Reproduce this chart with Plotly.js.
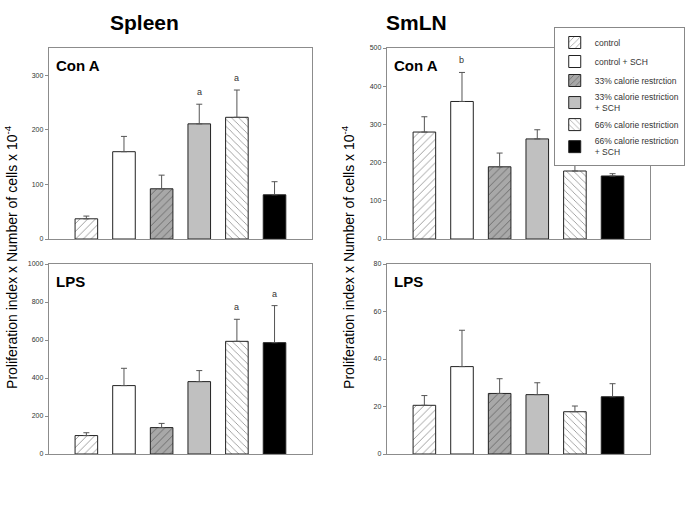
<!DOCTYPE html>
<html>
<head>
<meta charset="utf-8">
<script src="https://cdn.plot.ly/plotly-3.0.1.min.js"></script>
<style>html,body{margin:0;padding:0;background:#fff;}#chart{width:685px;height:516px;}</style>
</head>
<body>
<div id="chart"></div>
<script>
// ---- data ----
const groups = ["control", "control + SCH", "33% calorie restrction", "33% calorie restriction<br>+ SCH", "66% calorie restriction", "66% calorie restriction<br>+ SCH"];
const categoryPos = [1, 2, 3, 4, 5, 6];

const spleenConA = [37, 160, 92, 211, 223, 81];
const spleenConAErr = [5, 28, 25, 36, 50, 24];
const spleenConALetters = ["", "", "", "a", "a", ""];
const spleenConATicks = [0, 100, 200, 300];
const spleenConAMax = 350;

const spleenLPS = [97, 360, 139, 381, 593, 586];
const spleenLPSErr = [15, 91, 22, 58, 116, 195];
const spleenLPSLetters = ["", "", "", "", "a", "a"];
const spleenLPSTicks = [0, 200, 400, 600, 800, 1000];
const spleenLPSMax = 1000;

const smlnConA = [280, 360, 189, 262, 178, 165];
const smlnConAErr = [40, 76, 36, 24, 16, 6];
const smlnConALetters = ["", "b", "", "", "", ""];
const smlnConATicks = [0, 100, 200, 300, 400, 500];
const smlnConAMax = 500;

const smlnLPS = [20.5, 36.8, 25.5, 25.0, 17.8, 24.1];
const smlnLPSErr = [4.1, 15.3, 6.2, 5.0, 2.4, 5.5];
const smlnLPSLetters = ["", "", "", "", "", ""];
const smlnLPSTicks = [0, 20, 40, 60, 80];
const smlnLPSMax = 80;

const panelTitles = ["Spleen", "SmLN"];
const stimLabels = ["Con A", "LPS", "Con A", "LPS"];
const yTitle = "Proliferation index x Number of cells x 10<sup>-4</sup>";

// ---- styles ----
const styles = [
  {color: "#ffffff", pattern: {shape: "/", bgcolor: "#ffffff", fgcolor: "#1a1a1a", size: 5.5, solidity: 0.15, fillmode: "overlay"}},
  {color: "#ffffff", pattern: {shape: ""}},
  {color: "#a8a8a8", pattern: {shape: "/", bgcolor: "#a8a8a8", fgcolor: "#1a1a1a", size: 5.5, solidity: 0.15, fillmode: "overlay"}},
  {color: "#c0c0c0", pattern: {shape: ""}},
  {color: "#ffffff", pattern: {shape: "\\", bgcolor: "#ffffff", fgcolor: "#1a1a1a", size: 5, solidity: 0.16, fillmode: "overlay"}},
  {color: "#000000", pattern: {shape: ""}}
];

const panels = [
  {vals: spleenConA, err: spleenConAErr, letters: spleenConALetters, ticks: spleenConATicks, max: spleenConAMax},
  {vals: spleenLPS, err: spleenLPSErr, letters: spleenLPSLetters, ticks: spleenLPSTicks, max: spleenLPSMax},
  {vals: smlnConA, err: smlnConAErr, letters: smlnConALetters, ticks: smlnConATicks, max: smlnConAMax},
  {vals: smlnLPS, err: smlnLPSErr, letters: smlnLPSLetters, ticks: smlnLPSTicks, max: smlnLPSMax}
];

const W = 685, H = 516;
const xDom = [[49 / W, 314 / W], [49 / W, 314 / W], [389 / W, 654 / W], [389 / W, 654 / W]];
const yDom = [[(H - 239) / H, (H - 48) / H], [(H - 454) / H, (H - 264) / H], [(H - 239) / H, (H - 48) / H], [(H - 454) / H, (H - 264) / H]];

const font = "Liberation Sans, Arial, sans-serif";
const traces = [];
const annotations = [];
const layout = {
  width: W, height: H,
  margin: {l: 0, r: 0, t: 0, b: 0},
  paper_bgcolor: "#fff", plot_bgcolor: "#fff",
  barmode: "overlay",
  showlegend: true,
  font: {family: font, color: "#333"},
  legend: {
    x: 557 / W, y: (H - 27) / H, xanchor: "left", yanchor: "top",
    bgcolor: "#ffffff", bordercolor: "#888888", borderwidth: 1,
    font: {size: 8.5, family: font, color: "#333"},
    tracegroupgap: 0, traceorder: "normal", itemwidth: 30
  },
  annotations: annotations
};

panels.forEach((p, k) => {
  const sfx = k === 0 ? "" : String(k + 1);
  const xa = "x" + sfx, ya = "y" + sfx;
  groups.forEach((g, i) => {
    traces.push({
      type: "bar",
      x: [categoryPos[i]], y: [p.vals[i]],
      width: 0.6,
      name: g,
      legendgroup: "g" + i,
      showlegend: k === 0,
      xaxis: xa, yaxis: ya,
      marker: {color: styles[i].color, pattern: styles[i].pattern, line: {color: "#222", width: 1}},
      error_y: {type: "data", symmetric: false, array: [p.err[i]], arrayminus: [0], color: "#555", thickness: 1, width: 3},
      hoverinfo: "skip"
    });
    if (p.letters[i]) {
      annotations.push({
        xref: xa, yref: ya, x: categoryPos[i], y: p.vals[i] + p.err[i],
        text: p.letters[i], showarrow: false, yanchor: "bottom", xanchor: "center", yshift: 5,
        font: {size: 9, family: font, color: "#333"}
      });
    }
  });
  layout["xaxis" + sfx] = {
    domain: xDom[k], anchor: ya, range: [0, 7],
    showticklabels: false, ticks: "", showgrid: false, zeroline: false,
    showline: true, mirror: true, linecolor: "#8c8c8c", linewidth: 1, fixedrange: true
  };
  layout["yaxis" + sfx] = {
    domain: yDom[k], anchor: xa, range: [0, p.max],
    tickvals: p.ticks, ticks: "outside", ticklen: 3, tickcolor: "#8c8c8c",
    tickfont: {size: 7, family: font, color: "#333333"},
    showgrid: false, zeroline: false,
    showline: true, mirror: true, linecolor: "#8c8c8c", linewidth: 1, fixedrange: true
  };
  annotations.push({
    xref: xa + " domain", yref: ya + " domain", x: 0.019, y: 0.965,
    xanchor: "left", yanchor: "top", showarrow: false,
    text: "<b>" + stimLabels[k] + "</b>",
    font: {size: 15, family: font, color: "#000"}
  });
});

// panel titles
annotations.push({xref: "paper", yref: "paper", x: 145 / W, y: (H - 23) / H, xanchor: "center", yanchor: "middle", text: "<b>" + panelTitles[0] + "</b>", showarrow: false, font: {size: 21, family: font, color: "#000"}});
annotations.push({xref: "paper", yref: "paper", x: 419 / W, y: (H - 23) / H, xanchor: "center", yanchor: "middle", text: "<b>" + panelTitles[1] + "</b>", showarrow: false, font: {size: 21, family: font, color: "#000"}});
// y titles
annotations.push({xref: "paper", yref: "paper", x: 11 / W, y: (H - 257) / H, xanchor: "center", yanchor: "middle", textangle: -90, text: yTitle, showarrow: false, font: {size: 14, family: font, color: "#000"}});
annotations.push({xref: "paper", yref: "paper", x: 350 / W, y: (H - 257) / H, xanchor: "center", yanchor: "middle", textangle: -90, text: yTitle, showarrow: false, font: {size: 14, family: font, color: "#000"}});

Plotly.newPlot("chart", traces, layout, {staticPlot: true, displayModeBar: false});
</script>
</body>
</html>
